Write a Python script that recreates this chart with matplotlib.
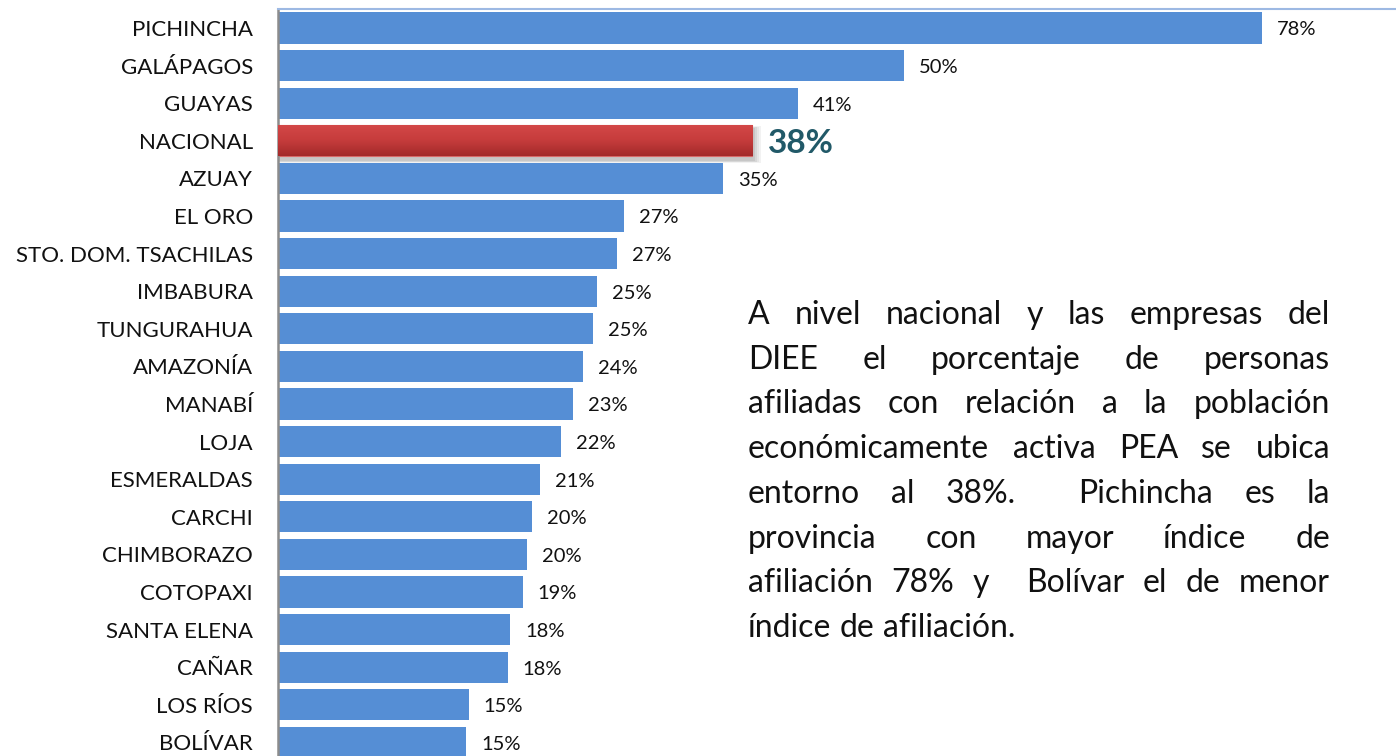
import matplotlib
matplotlib.use("Agg")
import matplotlib.pyplot as plt
import numpy as np
import re
from matplotlib.colors import LinearSegmentedColormap

plt.rcParams['font.family'] = ['Lato', 'DejaVu Sans']

provinces = ["PICHINCHA", "GALÁPAGOS", "GUAYAS", "NACIONAL", "AZUAY", "EL ORO",
             "STO. DOM. TSACHILAS", "IMBABURA", "TUNGURAHUA", "AMAZONÍA", "MANABÍ",
             "LOJA", "ESMERALDAS", "CARCHI", "CHIMBORAZO", "COTOPAXI", "SANTA ELENA",
             "CAÑAR", "LOS RÍOS", "BOLÍVAR"]
values = [78.0, 49.6, 41.2, 37.6, 35.3, 27.4, 26.9, 25.3, 25.0, 24.2, 23.4,
          22.4, 20.8, 20.1, 19.7, 19.4, 18.4, 18.2, 15.1, 14.9]
highlight = "NACIONAL"

text_lines = [
    "A nivel nacional y las empresas del",
    "DIEE el porcentaje de personas",
    "afiliadas con relación a la población",
    "económicamente activa PEA se ubica",
    "entorno al 38%.  Pichincha es la",
    "provincia con mayor índice de",
    "afiliación 78% y  Bolívar el de menor",
    "índice de afiliación.",
]

W, H = 1396, 756
fig = plt.figure(figsize=(W / 100, H / 100), dpi=100)
ax = fig.add_axes([278 / W, 0, 1118 / W, 747 / H])
PX = 1118 / 88.6  # pixels per percent unit

blue = "#558ED5"
y = np.arange(len(provinces))
bar_h = 0.83
for i, (p, v) in enumerate(zip(provinces, values)):
    if p == highlight:
        # soft shadow
        for k, a in enumerate([0.05, 0.05, 0.06, 0.07]):
            d = 0.04 * (4 - k)
            ax.barh(i + 0.1, v + 0.35 * (4 - k) * 0.5, height=bar_h + d,
                    color="#000000", alpha=a, zorder=1, linewidth=0)
        b = ax.barh(i, v, height=bar_h, color="#C43B3B", zorder=2,
                    edgecolor="#D86A6A", linewidth=0.8)
        grad = np.linspace(0, 1, 100).reshape(-1, 1)
        cmap = LinearSegmentedColormap.from_list("r", ["#D44848", "#C63C3C", "#A32B2B"])
        im = ax.imshow(grad, cmap=cmap, aspect="auto",
                       extent=[0, v, i + bar_h / 2, i - bar_h / 2], zorder=3)
        im.set_clip_path(b.patches[0])
        ax.text(v + 15 / PX, i + 0.08, f"{v:.0f}%", va="center", ha="left",
                fontsize=24, fontweight="bold", color="#215968", zorder=4)
    else:
        ax.barh(i, v, height=bar_h, color=blue, zorder=2)
        ax.text(v + 15 / PX, i + 0.05, f"{v:.0f}%", va="center", ha="left",
                fontsize=14.5, color="#111111", zorder=4)

ax.set_xlim(0, 88.6)
ax.set_ylim(19.36, -0.505)
ax.set_yticks(y)
ax.set_yticklabels(provinces, fontsize=16, color="#111111")
ax.tick_params(axis="y", length=0, pad=18)
ax.set_xticks([])
for s in ["right", "bottom"]:
    ax.spines[s].set_visible(False)
ax.spines["left"].set_color("#8C8C8C")
ax.spines["left"].set_linewidth(1.8)
ax.spines["top"].set_color("#9DB9E3")
ax.spines["top"].set_linewidth(1.5)

# justified paragraph
fig.canvas.draw()
renderer = fig.canvas.get_renderer()
x0, x1 = 748, 1330
y_first = 315
line_gap = 44.7
fs = 23


def width_of(s):
    t = fig.text(0, 0, s, fontsize=fs)
    wd = t.get_window_extent(renderer).width
    t.remove()
    return wd


natural_space = width_of("a a") - width_of("aa")
for li, line in enumerate(text_lines):
    parts = re.split(r"( +)", line)
    words = parts[0::2]
    gaps = [len(g) for g in parts[1::2]]
    widths = [width_of(w) for w in words]
    if li == len(text_lines) - 1 or not gaps:
        space = natural_space
    else:
        space = (x1 - x0 - sum(widths)) / sum(gaps)
    ypix = H - (y_first + li * line_gap)
    x = x0
    for j, (w, wd) in enumerate(zip(words, widths)):
        fig.text(x / W, ypix / H, w, fontsize=fs, color="#111111",
                 ha="left", va="center")
        if j < len(gaps):
            x += wd + space * gaps[j]

fig.savefig("out.png", dpi=100)
